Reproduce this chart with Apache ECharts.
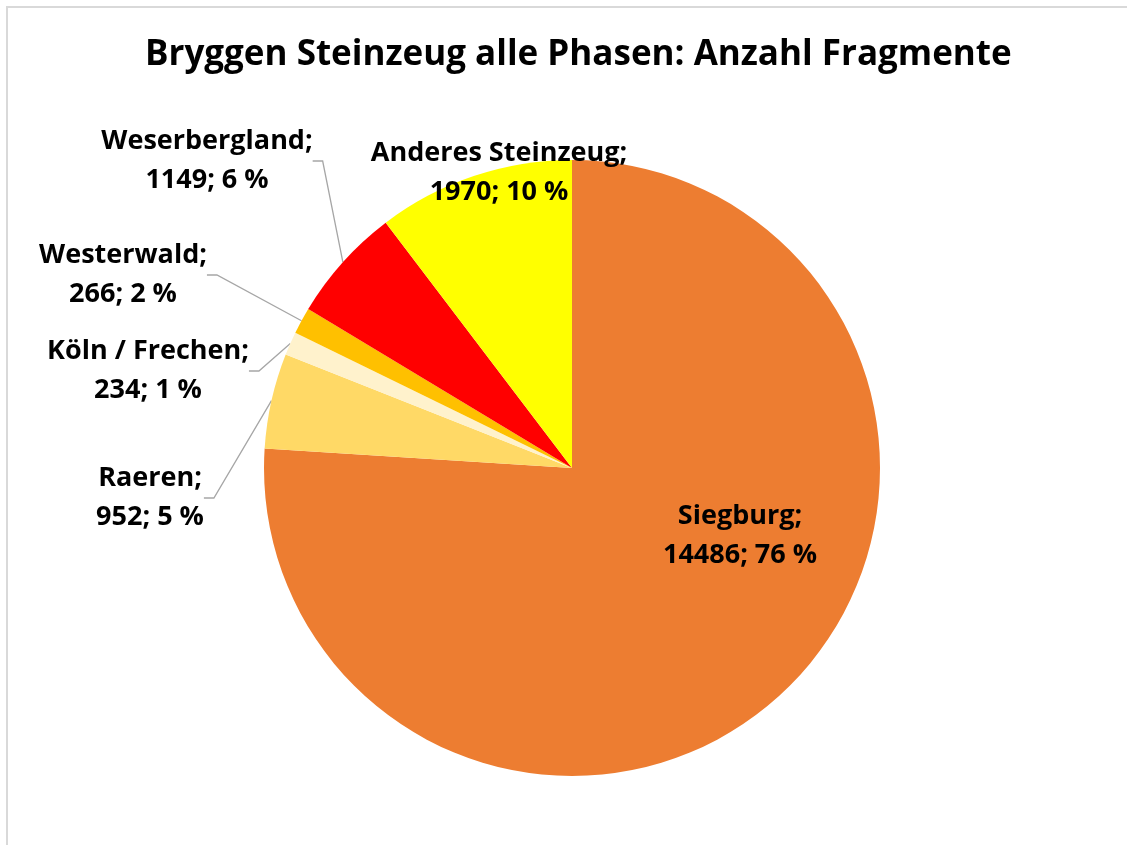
<!DOCTYPE html>
<html>
<head>
<meta charset="utf-8">
<script src="https://cdn.jsdelivr.net/npm/echarts@6/dist/echarts.min.js"></script>
<style>
    html, body { margin: 0; padding: 0; background: #fff; }
    #chart { width: 1127px; height: 845px; }
</style>
</head>
<body>
<div id="chart"></div>
<script>
// 数据
const names = ['Siegburg', 'Raeren', 'Köln / Frechen', 'Westerwald', 'Weserbergland', 'Anderes Steinzeug']
const counts = [14486, 952, 234, 266, 1149, 1970]
const percents = [76, 5, 1, 2, 6, 10]
const colors = ['#ed7d31', '#ffd966', '#fff2cc', '#ffc000', '#ff0000', '#ffff00']

// 标签位置（文字中心）
const labelSpots = [
    [740, 536],
    [150, 498],
    [148, 371],
    [123, 275],
    [207, 161],
    [499, 173]
]

;(function () {
    const dom = document.querySelector('#chart')
    const chart = echarts.init(dom)
    const font = '"Open Sans", Lato, sans-serif'
    const option = {
        animation: false,
        title: {
            text: 'Bryggen Steinzeug alle Phasen: Anzahl Fragmente',
            left: 140,
            top: 33,
            textStyle: {
                fontFamily: font,
                fontSize: 35,
                fontWeight: 'bold',
                color: '#000'
            }
        },
        graphic: [
            {
                type: 'rect',
                shape: { x: 7, y: 7, width: 1300, height: 1000 },
                style: { fill: 'none', stroke: '#d9d9d9', lineWidth: 2 },
                silent: true
            }
        ],
        series: [
            {
                type: 'pie',
                center: [572, 468],
                radius: 308,
                startAngle: 90,
                clockwise: true,
                avoidLabelOverlap: false,
                label: {
                    show: true,
                    position: 'outside',
                    fontFamily: font,
                    fontSize: 27,
                    fontWeight: 'bold',
                    color: '#000',
                    lineHeight: 39,
                    formatter: function (p) {
                        return p.name + ';\n' + counts[p.dataIndex] + '; ' + percents[p.dataIndex] + ' %'
                    }
                },
                labelLine: {
                    show: true,
                    length: 10,
                    length2: 10,
                    lineStyle: { color: '#a6a6a6', width: 1.3 }
                },
                labelLayout: function (params) {
                    const spot = labelSpots[params.dataIndex]
                    return {
                        x: spot[0],
                        y: spot[1],
                        align: 'center',
                        verticalAlign: 'middle',
                        hideOverlap: false
                    }
                },
                emphasis: { disabled: true },
                data: names.map((n, i) => ({
                    name: n,
                    value: counts[i],
                    itemStyle: { color: colors[i] },
                    labelLine: { show: i !== 0 && i !== 5 }
                }))
            }
        ]
    }
    chart.setOption(option)
    window.addEventListener('resize', () => {
        chart.resize()
    })
})()
</script>
</body>
</html>
